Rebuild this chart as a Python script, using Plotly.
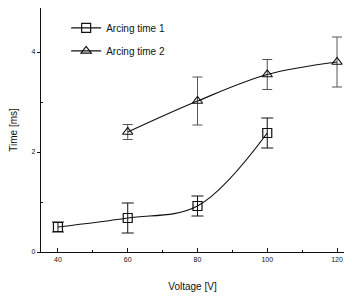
import plotly.graph_objects as go

voltage1 = [40, 60, 80, 100]
time1 = [0.5, 0.68, 0.92, 2.38]
err1 = [0.1, 0.3, 0.2, 0.3]

voltage2 = [60, 80, 100, 120]
time2 = [2.4, 3.02, 3.55, 3.8]
err2 = [0.15, 0.48, 0.3, 0.5]

x_ticks = [40, 60, 80, 100, 120]
y_ticks = [0, 2, 4]

fig = go.Figure()
fig.add_trace(go.Scatter(
    x=voltage1, y=time1, name="Arcing time 1", mode="lines+markers", cliponaxis=False,
    legendgroup="a",
    line=dict(color="#111", width=1.2, shape="spline"),
    marker=dict(symbol="square-open", size=9, color="#111", line=dict(width=1.2)),
    error_y=dict(type="data", array=err1, color="#111", thickness=1, width=6),
))
fig.add_trace(go.Scatter(
    x=voltage2, y=time2, name="Arcing time 2", mode="lines+markers", cliponaxis=False,
    legendgroup="b",
    line=dict(color="#111", width=1.2, shape="spline"),
    marker=dict(symbol="triangle-up-open", size=9, color="#111", line=dict(width=1.2)),
    error_y=dict(type="data", array=err2, color="#555", thickness=1, width=5),
))

fig.update_layout(
    width=336, height=284,
    margin=dict(l=33, r=0, t=0, b=40),
    paper_bgcolor="white", plot_bgcolor="white",
    font=dict(family="Liberation Sans, Arial", size=10, color="#111"),
    showlegend=True,
    legend=dict(x=0.083, y=0.978, xanchor="left", yanchor="top",
                bgcolor="rgba(0,0,0,0)", font=dict(size=10, color="#111"), itemwidth=30,
                tracegroupgap=4),
    xaxis=dict(range=[35.14, 122], tickvals=x_ticks, ticktext=[str(v) for v in x_ticks],
               automargin=False,
               showgrid=False, zeroline=False, showline=True, linecolor="#111", linewidth=1.2,
               ticks="inside", ticklen=4, tickcolor="#111", tickfont=dict(size=7, color="#111"),
               minor=dict(tickvals=[50, 70, 90, 110], ticks="inside", ticklen=2, tickcolor="#111"),
               title=dict(text="Voltage [V]", font=dict(size=10, color="#111"), standoff=22)),
    yaxis=dict(range=[0, 4.88], tickvals=y_ticks, ticktext=[str(v) for v in y_ticks],
               automargin=False,
               showgrid=False, zeroline=False, showline=True, linecolor="#111", linewidth=1.2,
               ticks="outside", ticklen=3, tickcolor="#111", tickfont=dict(size=7, color="#111"),
               minor=dict(tickvals=[1, 3], ticks="inside", ticklen=2, tickcolor="#111"),
               title=dict(text="Time [ms]", font=dict(size=10, color="#111"), standoff=12)),
)

fig.write_html("out.html")
